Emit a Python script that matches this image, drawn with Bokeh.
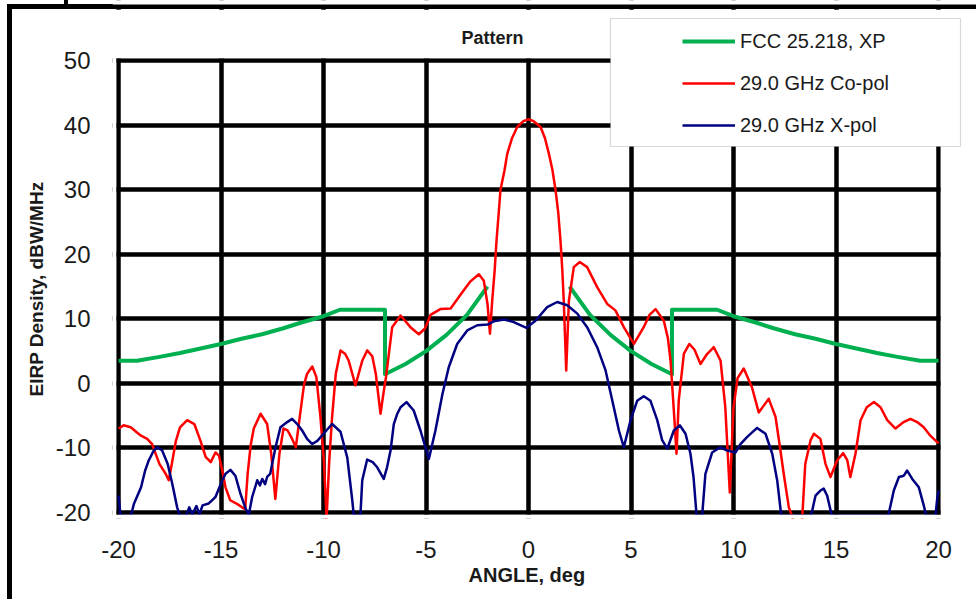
from bokeh.plotting import figure
from bokeh.models import Range1d, FixedTicker, Legend, LegendItem, BoxAnnotation, Label, Title
from bokeh.embed import file_html
from bokeh.resources import INLINE

nan = float("nan")

# FCC 25.218 cross-pol EIRP density mask (dBW/MHz), gap inside +/-2 deg
mask_angle = [-20, -19.1, -18, -17, -16, -15, -14, -13, -12, -11, -10, -9.2, -7, -7,
              -6, -5, -4, -3, -2, nan,
              2, 3, 4, 5, 6, 7, 7, 9.2, 10, 11, 12, 13, 14, 15, 16, 17, 18, 19.1, 20]
mask_db = [3.5, 3.5, 4.1, 4.7, 5.4, 6.1, 6.9, 7.6, 8.5, 9.5, 10.4, 11.4, 11.4, 1.4,
           3.0, 5.0, 7.5, 10.6, 15.0, nan,
           15.0, 10.6, 7.5, 5.0, 3.0, 1.4, 11.4, 11.4, 10.4, 9.5, 8.5, 7.6, 6.9, 6.1, 5.4, 4.7, 4.1, 3.5, 3.5]

# 29.0 GHz co-polar pattern
copol_angle = [-20.0, -19.75, -19.4, -19.1, -18.9, -18.6, -18.36, -18.2, -18.0, -17.7, -17.55,
               -17.4, -17.2, -17.0, -16.65, -16.3, -16.0, -15.75, -15.5, -15.27, -15.1,
               -14.94, -14.78, -14.55, -14.2, -13.97, -13.82, -13.7, -13.55, -13.4, -13.07,
               -12.75, -12.55, -12.35, -12.15, -11.95, -11.75, -11.53, -11.35, -11.15, -10.95,
               -10.8, -10.55, -10.35, -10.15, -9.98, -9.85, -9.72, -9.58, -9.4, -9.17,
               -8.95, -8.77, -8.44, -8.11, -7.87, -7.62, -7.45, -7.22, -7.05, -6.95,
               -6.65, -6.24, -5.76, -5.35, -5.05, -4.78, -4.3, -3.8, -3.3, -2.83,
               -2.42, -2.18, -2.0, -1.88, -1.77, -1.65, -1.56, -1.45, -1.37, -1.17,
               -1.04, -0.8, -0.55, -0.25, 0.0, 0.25, 0.59, 0.8, 1.0, 1.17,
               1.32, 1.45, 1.56, 1.65, 1.72, 1.84, 1.97, 2.21, 2.5, 2.86,
               3.35, 3.84, 4.24, 4.65, 5.14, 5.62, 5.9, 6.2, 6.6, 6.8,
               6.93, 7.12, 7.22, 7.33, 7.58, 7.85, 8.1, 8.39, 8.7, 9.04,
               9.37, 9.6, 9.82, 10.0, 10.2, 10.5, 10.9, 11.23, 11.72, 12.05,
               12.25, 12.45, 12.7, 12.9, 13.1, 13.35, 13.5, 13.76, 13.92, 14.24,
               14.49, 14.73, 15.06, 15.35, 15.55, 15.7, 15.95, 16.2, 16.5, 16.85,
               17.17, 17.5, 17.9, 18.3, 18.63, 18.96, 19.28, 19.6, 20.0]
copol_db = [-7.0, -6.5, -6.8, -7.6, -8.1, -8.6, -9.4, -10.8, -12.5, -14.0, -15.0,
            -12.5, -8.9, -6.8, -5.7, -6.3, -8.9, -11.4, -12.2, -10.7, -11.2,
            -13.5, -16.1, -18.1, -18.7, -19.2, -19.5, -14.0, -9.5, -7.0, -4.7,
            -6.3, -10.9, -17.9, -10.9, -7.0, -7.3, -8.6, -9.9, -5.0, -0.2,
            1.5, 2.6, 1.0, -5.2, -12.0, -21.0, -12.0, -5.2, 1.5, 5.1,
            4.6, 3.5, -0.3, 3.5, 5.1, 4.2, 1.5, -4.7, -1.0, 1.0,
            8.7, 10.5, 8.7, 7.6, 8.5, 10.6, 11.5, 11.6, 13.8, 15.8,
            16.9, 15.9, 12.3, 7.7, 12.8, 17.5, 22.1, 26.5, 29.9, 33.0,
            35.5, 38.0, 39.7, 40.6, 40.9, 40.6, 39.7, 38.0, 35.5, 33.0,
            29.9, 26.5, 22.1, 17.5, 12.8, 2.0, 12.8, 18.0, 18.8, 18.0,
            14.9, 12.3, 11.3, 8.7, 6.1, 8.7, 10.6, 11.5, 9.7, 7.0,
            3.5, -5.7, -10.9, -2.6, 4.6, 6.1, 5.2, 3.0, 4.5, 5.6,
            3.5, -3.7, -16.9, -3.7, 0.8, 2.3, -0.6, -4.5, -2.4, -5.2,
            -9.5, -14.0, -19.2, -21.0, -24.0, -21.0, -12.5, -8.8, -7.8, -8.6,
            -12.5, -14.5, -11.9, -10.8, -11.9, -14.5, -10.9, -5.7, -3.7, -2.9,
            -3.7, -5.7, -7.0, -6.0, -5.5, -6.0, -6.8, -8.1, -9.3]

# 29.0 GHz cross-polar pattern
xpol_angle = [-20.0, -19.9, -19.4, -19.25, -18.9, -18.7, -18.52, -18.28, -18.1, -17.87, -17.6,
              -17.38, -17.14, -17.0, -16.7, -16.55, -16.4, -16.2, -16.05, -15.9, -15.6,
              -15.4, -15.27, -15.0, -14.78, -14.54, -14.3, -14.05, -13.8, -13.64, -13.48,
              -13.23, -13.1, -12.99, -12.85, -12.75, -12.6, -12.34, -12.1, -11.77, -11.53,
              -11.28, -11.04, -10.8, -10.55, -10.3, -10.0, -9.58, -9.17, -8.84, -8.6,
              -8.52, -8.2, -8.11, -7.87, -7.6, -7.38, -7.06, -6.9, -6.73, -6.57,
              -6.4, -6.24, -5.95, -5.6, -5.27, -4.86, -4.54, -4.2, -3.89, -3.48,
              -2.99, -2.5, -2.0, -1.69, -1.2, -0.72, -0.1, 0.34, 0.91, 1.4,
              1.89, 2.38, 2.86, 3.35, 3.76, 4.16, 4.41, 4.65, 4.98, 5.3,
              5.62, 5.95, 6.28, 6.52, 6.77, 7.09, 7.38, 7.66, 7.9, 8.05,
              8.2, 8.47, 8.63, 8.96, 9.2, 9.37, 9.69, 10.1, 10.34, 10.67,
              11.15, 11.56, 11.89, 12.13, 12.33, 13.76, 13.84, 14.0, 14.24, 14.4,
              14.57, 14.7, 14.8, 17.55, 17.82, 18.07, 18.31, 18.47, 18.72, 19.04,
              19.28, 19.4, 19.85, 19.93, 20.0]
xpol_db = [-17.4, -20.5, -20.5, -18.7, -16.1, -13.5, -11.9, -10.4, -9.9, -10.4, -12.5,
           -15.5, -19.2, -20.5, -20.5, -19.2, -20.3, -19.0, -20.3, -18.9, -18.6,
           -18.0, -17.6, -15.5, -14.0, -13.4, -14.3, -17.1, -19.4, -20.3, -17.6,
           -15.0, -15.8, -14.8, -15.6, -14.5, -14.0, -9.9, -6.8, -6.0, -5.5,
           -6.3, -7.3, -8.6, -9.4, -8.9, -7.8, -6.3, -7.5, -11.5, -18.0,
           -20.5, -20.5, -15.0, -11.8, -12.2, -13.0, -14.8, -13.0, -10.4, -6.3,
           -4.7, -3.7, -2.9, -4.2, -7.3, -11.7, -7.3, -1.7, 2.5, 6.1,
           8.2, 9.0, 9.1, 9.6, 9.9, 9.5, 8.6, 9.7, 11.8, 12.6,
           12.1, 10.8, 8.7, 5.6, 2.0, -3.7, -7.3, -9.9, -5.7, -2.7,
           -2.0, -2.7, -5.7, -8.8, -10.1, -7.3, -6.5, -7.8, -10.9, -14.5,
           -20.5, -20.5, -14.0, -10.7, -10.2, -9.9, -10.4, -10.7, -9.4, -8.3,
           -6.9, -7.8, -10.9, -15.0, -20.5, -20.5, -19.7, -17.4, -16.6, -16.3,
           -17.4, -19.2, -20.5, -20.5, -16.6, -14.5, -14.3, -13.5, -14.8, -16.1,
           -18.9, -20.5, -20.5, -18.1, -16.6]

x_ticks = [-20, -15, -10, -5, 0, 5, 10, 15, 20]
x_tick_labels = ["-20", "-15", "-10", "-5", "0", "5", "10", "15", "20"]
y_ticks = [-20, -10, 0, 10, 20, 30, 40, 50]
y_tick_labels = ["-20", "-10", "0", "10", "20", "30", "40", "50"]

series_names = ["FCC 25.218, XP", "29.0 GHz Co-pol", "29.0 GHz X-pol"]

X_MIN, X_MAX, Y_MIN, Y_MAX = -20, 20, -20, 50

FONT = "Liberation Sans"
INK = "#1a1a1a"

# --- page geometry (pixels) ---
W, H = 976, 599
AL, AR, AT, AB = 118, 938, 60, 512     # plotting area
FL, FR, FB = AL - 6, W, AB + 6         # frame edges; frame is open to the top and right
TOP_LINE = (4, 9.3)                    # outer chart border, top strip (y range)
GRID_W = 4.5                           # grid / border line width

px_x = (AR - AL) / (X_MAX - X_MIN)
px_y = (AB - AT) / (Y_MAX - Y_MIN)
XS, XE = X_MIN - (AL - FL) / px_x, X_MAX + (FR - AR) / px_x
YS, YE = Y_MIN - (FB - AB) / px_y, Y_MAX + AT / px_y
# half a grid line, in data units: the outermost grid lines form the plot border
HX, HY = GRID_W / 2 / px_x, GRID_W / 2 / px_y


def y_at(page_y):
    return Y_MAX + (AT - page_y) / px_y


def sx(page_x):
    # page x -> frame-relative screen x
    return page_x - FL


def sy(page_y):
    # page y (from top) -> frame-relative screen y (from bottom)
    return FB - page_y


p = figure(width=W, height=H, output_backend="svg", toolbar_location=None, title=None,
           x_range=Range1d(XS, XE), y_range=Range1d(YS, YE),
           min_border_left=FL, min_border_right=W - FR,
           min_border_top=0, min_border_bottom=H - FB)
# transparent canvas so the outer chart border (page background) shows through
p.background_fill_alpha = 0
p.border_fill_alpha = 0
p.outline_line_color = None
p.styles = {
    "background-color": "white",
    "background-image": "linear-gradient(#000, #000), linear-gradient(#000, #000), "
                        "linear-gradient(#000, #000)",
    "background-repeat": "no-repeat",
    "background-size": "969px 5.3px, 5px 595px, 4px 4px",
    "background-position": "7px 4px, 7px 4px, 64px 0px",
    "overflow": "hidden",
}
# keep the blank margin right of the plotting area clean
p.stylesheets = [
    ":host::before, :host::after { content: ''; position: absolute; background: #fff;"
    " z-index: 100; pointer-events: none; }"
    ":host::before { left: 941px; top: 147px; width: 35px; height: 373px; }"
    ":host::after { left: 956px; top: 520px; width: 20px; height: 79px; }"
]

for ax in (p.xaxis[0], p.yaxis[0]):
    ax.axis_line_color = None
    ax.major_tick_line_color = None
    ax.minor_tick_line_color = None
    ax.major_label_text_font = FONT
    ax.major_label_text_font_size = "24px"
    ax.major_label_text_color = INK

p.xaxis.bounds = (X_MIN, X_MAX)
p.yaxis.bounds = (Y_MIN, Y_MAX)
p.xaxis.ticker = FixedTicker(ticks=x_ticks)
p.yaxis.ticker = FixedTicker(ticks=y_ticks)
p.xaxis.major_label_overrides = dict(zip(x_ticks, x_tick_labels))
p.yaxis.major_label_overrides = dict(zip(y_ticks, y_tick_labels))
p.xaxis.major_label_standoff = 16
p.yaxis.major_label_standoff = 16

# axis titles, placed next to the axes and centred on the plotting area
p.add_layout(Title(text="ANGLE, deg", align="left", offset=356, vertical_align="top",
                   standoff=6, text_font=FONT, text_font_style="bold",
                   text_font_size="20px", text_color=INK), "below")
p.add_layout(Title(text="EIRP Density, dBW/MHz", align="left", offset=122,
                   vertical_align="bottom", standoff=12, text_font=FONT,
                   text_font_style="bold", text_font_size="19px", text_color=INK), "left")

p.xgrid.ticker = FixedTicker(ticks=x_ticks)
p.ygrid.ticker = FixedTicker(ticks=y_ticks)
for g in (p.xgrid[0], p.ygrid[0]):
    g.grid_line_color = "black"
    g.grid_line_width = GRID_W

r_mask = p.line(mask_angle, mask_db, line_color="#00B050", line_width=4, line_join="round")
r_co = p.line(copol_angle, copol_db, line_color="#FF0000", line_width=2.5, line_join="round")
r_x = p.line(xpol_angle, xpol_db, line_color="#000080", line_width=2.5, line_join="round")

# white margins around the plotting area (hide grid overshoot), leaving the top border strip open
y_top_in, y_top_out = y_at(TOP_LINE[1]), y_at(TOP_LINE[0])
for l, r, b, t in [(XS, XE, Y_MAX + HY, y_top_in), (XS, XE, y_top_out, YE),
                   (XS, XE, YS, Y_MIN - HY),
                   (XS, X_MIN - HX, YS, y_top_in), (X_MAX + HX, XE, YS, y_top_in)]:
    p.add_layout(BoxAnnotation(left=l, right=r, bottom=b, top=t,
                               fill_color="white", fill_alpha=1, line_color=None))

# legend box
p.add_layout(BoxAnnotation(left=sx(610), right=sx(960), top=sy(18), bottom=sy(146),
                           left_units="screen", right_units="screen",
                           top_units="screen", bottom_units="screen",
                           fill_color="white", fill_alpha=1,
                           line_color="#7f7f7f", line_width=1.2))

p.add_layout(Label(x=sx(492), y=sy(37), x_units="screen", y_units="screen",
                   text="Pattern", text_font=FONT, text_font_style="bold",
                   text_font_size="18px", text_align="center", text_baseline="middle",
                   text_color=INK))

legend = Legend(items=[LegendItem(label=n, renderers=[r]) for n, r in
                       zip(series_names, [r_mask, r_co, r_x])],
                location=(sx(682), sy(140)), padding=0, margin=0, spacing=12,
                glyph_width=53, glyph_height=30, label_height=30, label_standoff=5,
                label_text_font=FONT, label_text_font_size="20px",
                label_text_color=INK,
                border_line_color=None, background_fill_alpha=0)
p.add_layout(legend, "center")

open("out.html", "w").write(file_html(p, INLINE))
